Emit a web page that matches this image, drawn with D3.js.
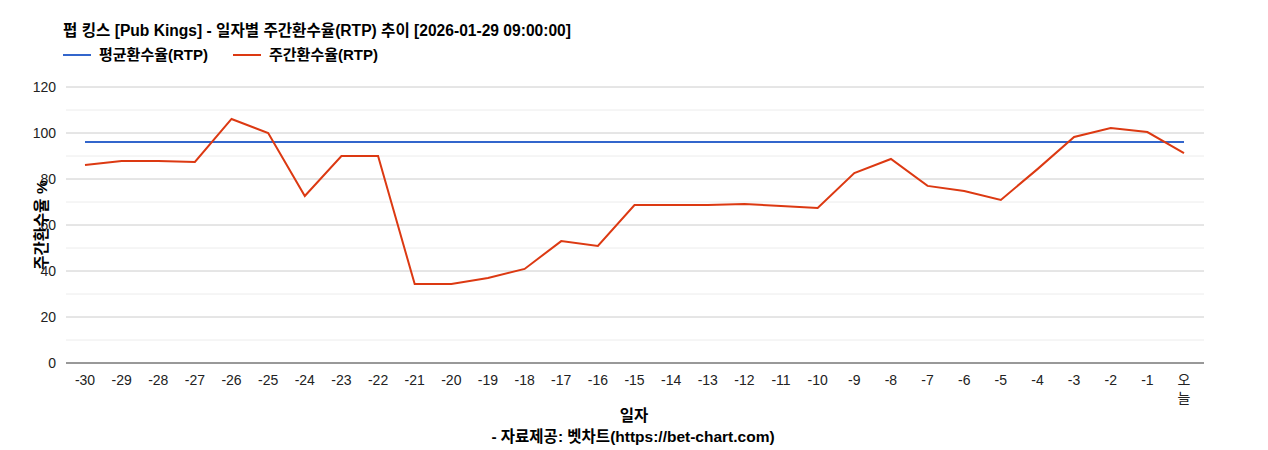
<!DOCTYPE html>
<html><head><meta charset="utf-8">
<script src="https://cdn.jsdelivr.net/npm/d3@7"></script>
<style>body{margin:0;background:#fff;font-family:Arial,"Liberation Sans","Noto Sans CJK KR",sans-serif}</style>
</head><body><svg id="c" width="1268" height="450"></svg>
<script>
const categories=["-30","-29","-28","-27","-26","-25","-24","-23","-22","-21","-20","-19","-18","-17","-16","-15","-14","-13","-12","-11","-10","-9","-8","-7","-6","-5","-4","-3","-2","-1","오늘"];
const weeklyRTP=[86.1,87.8,87.8,87.4,106.1,100,72.6,90,90,34.3,34.3,37,40.9,53,50.9,68.7,68.7,68.7,69.1,68.3,67.4,82.6,88.7,77,74.8,70.9,84.3,98.3,102.2,100.4,91.3];
const avgRTP=categories.map(()=>96.1);
const yTicks=[0,20,40,60,80,100,120];
const title="펍 킹스 [Pub Kings] - 일자별 주간환수율(RTP) 추이 [2026-01-29 09:00:00]";
const svg=d3.select("#c");
const L=66,R=1204,T=87,B=363;
const x=d3.scalePoint().domain(categories).range([85,1184]);
const y=d3.scaleLinear().domain([0,120]).range([B,T]);
const g=svg.append("g");
d3.range(10,120,20).forEach(v=>g.append("line").attr("x1",L).attr("x2",R).attr("y1",y(v)).attr("y2",y(v)).attr("stroke","#ececec"));
yTicks.forEach(v=>g.append("line").attr("x1",L).attr("x2",R).attr("y1",y(v)).attr("y2",y(v)).attr("stroke",v?"#cccccc":"#333"));
yTicks.forEach(v=>g.append("text").attr("x",L-10).attr("y",y(v)+5).attr("text-anchor","end").attr("font-size",14).attr("fill","#222").text(v));
categories.forEach(c=>{
 const t=g.append("text").attr("x",x(c)).attr("y",B+22).attr("text-anchor","middle").attr("font-size",14).attr("fill","#222");
 if(c==="오늘"){t.append("tspan").attr("x",x(c)).text("오");t.append("tspan").attr("x",x(c)).attr("dy",18).text("늘");}
 else t.text(c);
});
const line=d3.line().x((d,i)=>x(categories[i])).y(d=>y(d));
g.append("path").attr("d",line(avgRTP)).attr("fill","none").attr("stroke","#3366cc").attr("stroke-width",2);
g.append("path").attr("d",line(weeklyRTP)).attr("fill","none").attr("stroke","#dc3912").attr("stroke-width",2);
svg.append("text").attr("x",63).attr("y",36).attr("font-size",15.6).attr("font-weight","bold").text(title);
[[63,"#3366cc","평균환수율(RTP)"],[233,"#dc3912","주간환수율(RTP)"]].forEach(([lx,c,t])=>{
 svg.append("line").attr("x1",lx).attr("x2",lx+28).attr("y1",55).attr("y2",55).attr("stroke",c).attr("stroke-width",2);
 svg.append("text").attr("x",lx+36).attr("y",60).attr("font-size",15).attr("font-weight","bold").text(t);
});
svg.append("text").attr("x",634).attr("y",421).attr("text-anchor","middle").attr("font-size",15.5).attr("font-weight","bold").text("일자");
svg.append("text").attr("x",633).attr("y",442).attr("text-anchor","middle").attr("font-size",15.5).attr("font-weight","bold").text("- 자료제공: 벳차트(https://bet-chart.com)");
svg.append("text").attr("transform","translate(47,225) rotate(-90)").attr("text-anchor","middle").attr("font-size",15.5).attr("font-weight","bold").text("주간환수율 %");
</script></body></html>
